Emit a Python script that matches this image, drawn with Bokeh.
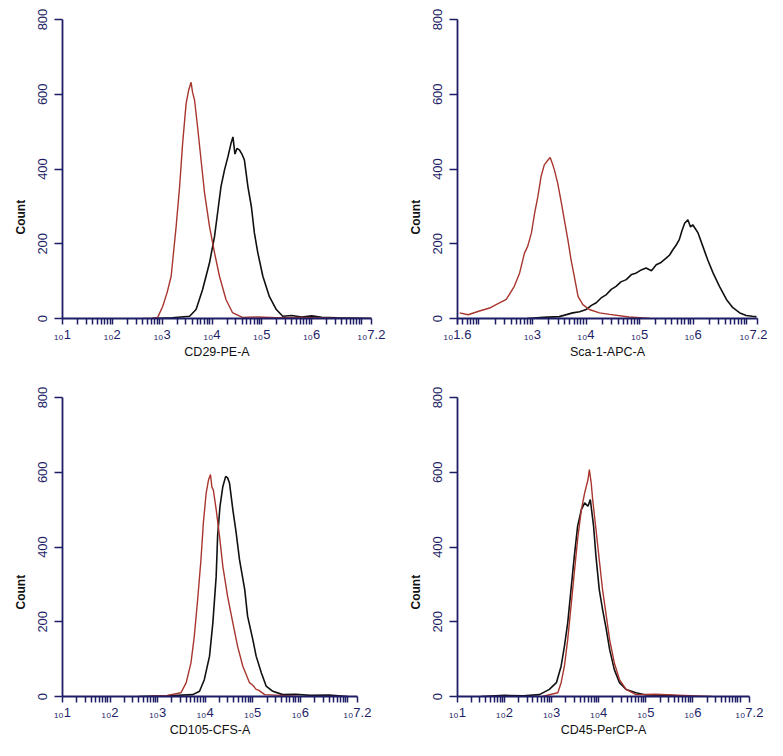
from bokeh.plotting import figure
from bokeh.layouts import column, row
from bokeh.models import FixedTicker, Range1d, Title
from bokeh.embed import file_html
from bokeh.resources import INLINE
import math

# ---------------- data (log10 fluorescence, count) ----------------
tl_red_x = [2.60, 2.80, 2.91, 3.01, 3.10, 3.18, 3.28, 3.35, 3.41, 3.48, 3.53, 3.58, 3.61, 3.65, 3.71, 3.78, 3.85, 3.95, 4.05, 4.15, 4.28, 4.41, 4.61, 4.90, 5.30, 5.80, 6.40, 7.20]
tl_red_y = [0, 1, 3, 32, 70, 113, 246, 353, 468, 575, 610, 632, 605, 584, 513, 424, 336, 246, 176, 113, 51, 16, 3, 4, 2, 3, 1, 0]
tl_blk_x = [2.80, 3.20, 3.55, 3.68, 3.81, 3.95, 4.05, 4.12, 4.18, 4.25, 4.32, 4.38, 4.42, 4.46, 4.50, 4.55, 4.60, 4.65, 4.72, 4.79, 4.85, 4.92, 5.02, 5.15, 5.29, 5.42, 5.60, 5.80, 6.00, 6.20, 6.50, 7.20]
tl_blk_y = [0, 2, 6, 24, 77, 149, 219, 291, 353, 397, 433, 468, 486, 440, 455, 451, 440, 424, 353, 299, 229, 175, 113, 59, 24, 6, 8, 4, 7, 3, 2, 0]

tr_red_x = [1.64, 1.80, 2.01, 2.20, 2.32, 2.51, 2.66, 2.76, 2.85, 2.91, 2.98, 3.04, 3.10, 3.16, 3.22, 3.29, 3.33, 3.37, 3.41, 3.47, 3.54, 3.60, 3.66, 3.72, 3.78, 3.85, 3.94, 4.06, 4.25, 4.44, 4.80, 5.20]
tr_red_y = [15, 10, 20, 28, 37, 51, 86, 122, 175, 193, 229, 282, 326, 380, 411, 424, 431, 415, 397, 362, 309, 259, 211, 157, 113, 59, 37, 24, 15, 11, 4, 0]
tr_blk_x = [2.90, 3.20, 3.50, 3.75, 3.88, 4.00, 4.10, 4.19, 4.28, 4.38, 4.47, 4.56, 4.65, 4.75, 4.85, 4.94, 5.03, 5.12, 5.22, 5.31, 5.40, 5.50, 5.56, 5.62, 5.68, 5.74, 5.79, 5.84, 5.90, 5.95, 5.99, 6.04, 6.09, 6.18, 6.27, 6.37, 6.49, 6.62, 6.74, 6.87, 6.99, 7.10, 7.18]
tr_blk_y = [0, 3, 5, 15, 18, 24, 35, 42, 55, 64, 78, 86, 98, 104, 118, 122, 130, 135, 128, 144, 150, 162, 170, 184, 196, 211, 235, 255, 264, 245, 251, 240, 229, 193, 157, 122, 86, 51, 29, 15, 8, 6, 5]

bl_red_x = [2.80, 3.20, 3.49, 3.60, 3.70, 3.77, 3.84, 3.91, 3.96, 4.02, 4.07, 4.11, 4.14, 4.17, 4.23, 4.30, 4.37, 4.47, 4.58, 4.68, 4.79, 4.93, 5.00, 5.07, 5.12, 5.25, 5.60, 6.00]
bl_red_y = [0, 3, 10, 37, 90, 161, 259, 366, 464, 545, 580, 594, 560, 553, 500, 429, 348, 268, 197, 134, 81, 37, 30, 19, 17, 5, 3, 0]
bl_blk_x = [2.60, 3.20, 3.74, 3.88, 3.98, 4.09, 4.16, 4.23, 4.26, 4.31, 4.37, 4.43, 4.47, 4.51, 4.58, 4.65, 4.72, 4.83, 4.89, 5.00, 5.07, 5.18, 5.28, 5.42, 5.63, 5.90, 6.20, 6.60, 7.00]
bl_blk_y = [0, 2, 5, 14, 45, 108, 197, 322, 429, 509, 562, 589, 585, 571, 500, 438, 366, 286, 215, 152, 108, 63, 28, 14, 5, 6, 3, 4, 0]

br_red_x = [2.80, 3.13, 3.20, 3.27, 3.34, 3.41, 3.48, 3.55, 3.63, 3.70, 3.77, 3.80, 3.84, 3.87, 3.94, 4.01, 4.08, 4.16, 4.23, 4.33, 4.44, 4.58, 4.79, 5.20, 5.80, 6.40]
br_red_y = [0, 10, 37, 81, 152, 241, 331, 420, 500, 545, 580, 607, 570, 527, 447, 366, 286, 215, 152, 90, 45, 19, 5, 6, 3, 0]
br_blk_x = [1.50, 2.00, 2.40, 2.74, 2.95, 3.10, 3.20, 3.27, 3.34, 3.41, 3.48, 3.55, 3.63, 3.70, 3.77, 3.82, 3.89, 3.94, 4.01, 4.08, 4.16, 4.23, 4.33, 4.44, 4.58, 4.79, 5.00, 5.40, 6.00]
br_blk_y = [0, 3, 2, 5, 19, 37, 81, 134, 197, 286, 375, 455, 500, 518, 509, 527, 455, 375, 286, 233, 179, 126, 72, 37, 19, 10, 4, 3, 0]

x_labels = ["CD29-PE-A", "Sca-1-APC-A", "CD105-CFS-A", "CD45-PerCP-A"]
y_label = "Count"
y_ticks = [0, 200, 400, 600, 800]

AXIS = "#1e1e66"
RED = "#a8352e"
BLK = "#111111"
FONT = "Liberation Sans"
SUB10 = "\u2081\u2080"


def exp_text(v):
    if abs(v - round(v)) < 1e-9:
        return SUB10 + str(int(round(v)))
    return SUB10 + ("%.1f" % v)


def panel(xmin, labeled, xlabel, red_x, red_y, blk_x, blk_y, w, h, bl, br, bt, bb, count_off):
    p = figure(width=w, height=h, x_range=Range1d(xmin, 7.2), y_range=Range1d(0, 800),
               output_backend="svg", toolbar_location=None,
               min_border_left=bl, min_border_right=br, min_border_top=bt, min_border_bottom=bb)
    p.grid.visible = False
    p.outline_line_color = None
    p.background_fill_color = "white"
    p.border_fill_color = "white"

    majors = sorted(set([xmin] + [float(n) for n in range(int(math.ceil(xmin)), 8) if n <= 7.2] + [7.2]))
    minors = []
    for n in range(1, 8):
        for k in range(2, 10):
            v = n + math.log10(k)
            if xmin < v < 7.2:
                minors.append(v)
    p.xaxis.ticker = FixedTicker(ticks=majors, minor_ticks=minors)
    overrides = {}
    for t in majors:
        overrides[t] = exp_text(t) if any(abs(t - l) < 1e-9 for l in labeled) else ""
    p.xaxis.major_label_overrides = overrides

    p.yaxis.ticker = FixedTicker(ticks=y_ticks)
    p.yaxis.major_label_orientation = "vertical"

    for ax in (p.xaxis[0], p.yaxis[0]):
        ax.axis_line_color = AXIS
        ax.axis_line_width = 1.8
        ax.major_tick_line_color = AXIS
        ax.minor_tick_line_color = AXIS
        ax.major_tick_line_width = 1.5
        ax.minor_tick_line_width = 1.5
        ax.major_label_text_color = AXIS
        ax.major_label_text_font = FONT

    p.xaxis.major_tick_in = 0
    p.xaxis.major_tick_out = 6
    p.xaxis.minor_tick_in = 0
    p.xaxis.minor_tick_out = 6
    p.xaxis.major_label_text_font_size = "13px"
    p.xaxis.major_label_standoff = 2
    p.xaxis.axis_label = xlabel
    p.xaxis.axis_label_text_font = FONT
    p.xaxis.axis_label_text_font_size = "12.5px"
    p.xaxis.axis_label_text_font_style = "normal"
    p.xaxis.axis_label_text_color = "#111111"
    p.xaxis.axis_label_standoff = 0

    p.yaxis.major_tick_in = 0
    p.yaxis.major_tick_out = 8
    p.yaxis.minor_tick_line_color = None
    p.yaxis.major_label_text_font_size = "13px"
    p.yaxis.major_label_standoff = 8

    p.add_layout(Title(text=y_label, align="left", offset=count_off, text_font=FONT,
                       text_font_size="12px", text_font_style="bold", text_color="#111111",
                       standoff=14), "left")

    p.line(blk_x, blk_y, line_color=BLK, line_width=1.6)
    p.line(red_x, red_y, line_color=RED, line_width=1.4)
    return p


p1 = panel(1.0, [1, 2, 3, 4, 5, 6, 7.2], x_labels[0], tl_red_x, tl_red_y, tl_blk_x, tl_blk_y,
           390, 377, 62, 19, 19, 59, 84)
p2 = panel(1.6, [1.6, 3, 4, 5, 6, 7.2], x_labels[1], tr_red_x, tr_red_y, tr_blk_x, tr_blk_y,
           377, 377, 67, 10, 19, 59, 84)
p3 = panel(1.0, [1, 2, 3, 4, 5, 6, 7.2], x_labels[2], bl_red_x, bl_red_y, bl_blk_x, bl_blk_y,
           390, 363, 62, 33, 20, 44, 87)
p4 = panel(1.0, [1, 2, 3, 4, 5, 6, 7.2], x_labels[3], br_red_x, br_red_y, br_blk_x, br_blk_y,
           377, 363, 67, 18, 20, 44, 87)

layout = column(row(p1, p2), row(p3, p4))
open("out.html", "w").write(file_html(layout, INLINE))
